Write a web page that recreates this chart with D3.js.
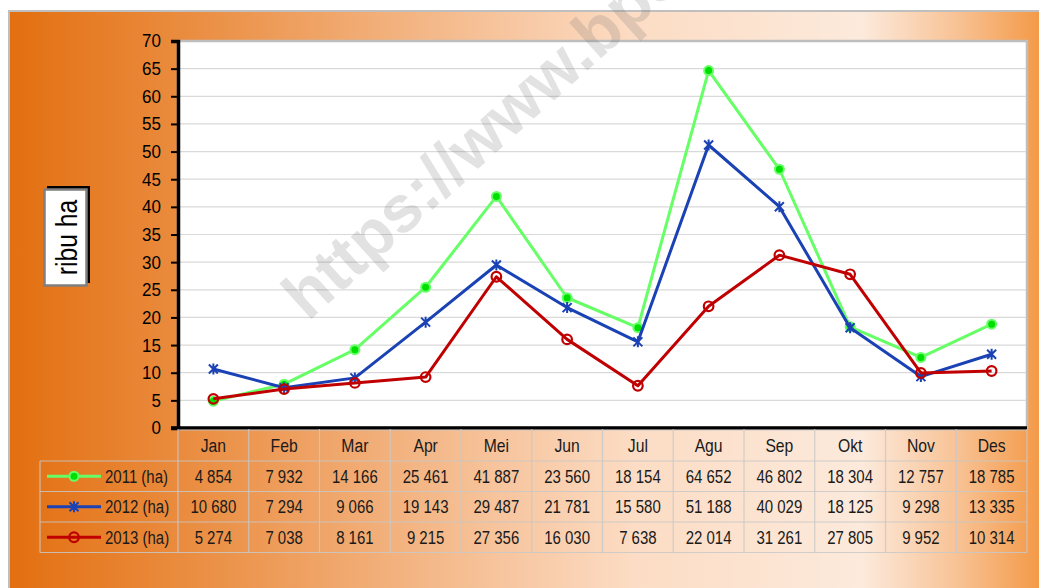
<!DOCTYPE html>
<html><head><meta charset="utf-8">
<script src="https://cdn.jsdelivr.net/npm/d3@7/dist/d3.min.js"></script>
<style>
html,body{margin:0;padding:0;background:#fff;}
svg{display:block;}
.nar{font-family:"Liberation Sans",Arial,sans-serif;}
</style></head>
<body>
<svg id="chart" width="1039" height="588"></svg>
<script>
const months = ["Jan","Feb","Mar","Apr","Mei","Jun","Jul","Agu","Sep","Okt","Nov","Des"];
const seriesNames = ["2011 (ha)","2012 (ha)","2013 (ha)"];
const values2011 = [4854,7932,14166,25461,41887,23560,18154,64652,46802,18304,12757,18785];
const values2012 = [10680,7294,9066,19143,29487,21781,15580,51188,40029,18125,9298,13335];
const values2013 = [5274,7038,8161,9215,27356,16030,7638,22014,31261,27805,9952,10314];
const yTicks = [0,5,10,15,20,25,30,35,40,45,50,55,60,65,70];
const yLabel = "ribu ha";
const watermark = "https://www.bps.go.id";

const series = [
  {name: seriesNames[0], values: values2011, color: "#66FF66", marker: "dot"},
  {name: seriesNames[1], values: values2012, color: "#1A42B4", marker: "star"},
  {name: seriesNames[2], values: values2013, color: "#C00000", marker: "ring"}
];

const NARROW = 0.81;
const svg = d3.select("#chart");
const defs = svg.append("defs");
const grad = defs.append("linearGradient").attr("id","bg").attr("x1","0").attr("x2","1").attr("y1","0").attr("y2","0");
[["0%","#E36F10"],["22%","#EC954E"],["48%","#F7C6A0"],["60%","#FCDCC4"],["82%","#FCEADC"],["91%","#F8C396"],["100%","#F3953F"]]
  .forEach(s=>grad.append("stop").attr("offset",s[0]).attr("stop-color",s[1]));

// outer frame
svg.append("rect").attr("x",9).attr("y",11).attr("width",1040).attr("height",590)
  .attr("fill","url(#bg)").attr("stroke","#BFBFBF").attr("stroke-width",2);

const L = 178, R = 1027, T = 41, B = 428;
const x = d3.scaleBand().domain(months).range([L,R]).padding(0);
const y = d3.scaleLinear().domain([0,70]).range([B,T]);
const cx = m => x(m) + x.bandwidth()/2;

// plot area
svg.append("rect").attr("x",L).attr("y",T).attr("width",R-L).attr("height",B-T)
  .attr("fill","#fff").attr("stroke","#BEBEBE").attr("stroke-width",2.5);

// gridlines
svg.append("g").selectAll("line").data(yTicks.filter(t=>t>0 && t<70)).join("line")
  .attr("x1",L).attr("x2",R-1).attr("y1",d=>y(d)).attr("y2",d=>y(d))
  .attr("stroke","#D9D9D9").attr("stroke-width",1.2);

// y axis
const yAxis = d3.axisLeft(y).tickValues(yTicks).tickSize(7).tickPadding(10);
const ya = svg.append("g").attr("transform",`translate(${L},0)`).call(yAxis);
ya.attr("font-family",null).attr("font-size",null);
ya.select(".domain").attr("stroke","#000").attr("stroke-width",3.5);
ya.selectAll(".tick line").attr("stroke","#000").attr("stroke-width",2);
ya.selectAll("text").attr("class","nar").attr("font-size",18.5).attr("fill","#000")
  .attr("transform",`scale(0.92,1)`).attr("x",-17/0.92);
// bottom axis line
svg.append("line").attr("x1",L-7).attr("x2",R).attr("y1",B).attr("y2",B)
  .attr("stroke","#000").attr("stroke-width",3.5);

// lines
const line = d3.line().x((d,i)=>cx(months[i])).y(d=>y(d/1000));
function drawMarker(g, type, color){
  if(type==="dot"){
    g.append("circle").attr("r",4.5).attr("fill","#00E000").attr("stroke",color).attr("stroke-width",2);
  } else if(type==="star"){
    const s=4.5;
    g.append("path").attr("d",`M${-s},${-s}L${s},${s}M${-s},${s}L${s},${-s}M0,${-s-1}L0,${s+1}`)
      .attr("stroke",color).attr("stroke-width",2).attr("fill","none");
  } else {
    g.append("circle").attr("r",4.8).attr("fill","none").attr("stroke",color).attr("stroke-width",2.2);
  }
}
series.forEach(s=>{
  svg.append("path").datum(s.values).attr("d",line).attr("fill","none")
    .attr("stroke",s.color).attr("stroke-width",3).attr("stroke-linejoin","round");
  s.values.forEach((v,i)=>{
    const g = svg.append("g").attr("transform",`translate(${cx(months[i])},${y(v/1000)})`);
    drawMarker(g,s.marker,s.color);
  });
});

// narrow text helper
function ntext(parent, tx, ty, str, size, anchor, sx){
  return parent.append("text").attr("class","nar")
    .attr("transform",`translate(${tx},${ty}) scale(${sx||NARROW},1)`)
    .attr("text-anchor",anchor||"middle").attr("font-size",size).attr("fill","#1a1a1a").text(str);
}

// data table
const rowTop = 429, hdrH = 32, rowH = 30.5, legL = 40;
const tb = svg.append("g");
const gridCol = "rgba(200,200,200,0.85)";
tb.append("line").attr("x1",L).attr("x2",R).attr("y1",rowTop+1).attr("y2",rowTop+1).attr("stroke",gridCol);
for(let r=0;r<=series.length;r++){
  const yy = rowTop+hdrH+r*rowH;
  tb.append("line").attr("x1",legL).attr("x2",R).attr("y1",yy).attr("y2",yy).attr("stroke",gridCol).attr("stroke-width",1.2);
}
const bottomY = rowTop+hdrH+series.length*rowH;
months.forEach((m,i)=>{
  tb.append("line").attr("x1",x(m)).attr("x2",x(m)).attr("y1",rowTop).attr("y2",bottomY).attr("stroke",gridCol).attr("stroke-width",1.2);
});
tb.append("line").attr("x1",R).attr("x2",R).attr("y1",rowTop).attr("y2",bottomY).attr("stroke",gridCol).attr("stroke-width",1.2);
tb.append("line").attr("x1",legL).attr("x2",legL).attr("y1",rowTop+hdrH).attr("y2",bottomY).attr("stroke",gridCol).attr("stroke-width",1.2);
months.forEach(m=>ntext(tb, cx(m), rowTop+hdrH/2+6.5, m, 18.5, "middle", 0.85));
const fmt = v => d3.format(",")(v).replace(/,/g," ");
series.forEach((s,r)=>{
  const cy = rowTop+hdrH+r*rowH+rowH/2;
  tb.append("line").attr("x1",47).attr("x2",101).attr("y1",cy).attr("y2",cy)
    .attr("stroke",s.color).attr("stroke-width",3);
  const g = tb.append("g").attr("transform",`translate(74,${cy})`);
  drawMarker(g,s.marker,s.color);
  ntext(tb, 105, cy+6.5, s.name, 18.5, "start");
  s.values.forEach((v,i)=>ntext(tb, cx(months[i]), cy+6.5, fmt(v), 18.5, "middle"));
});

// y label box
svg.append("rect").attr("x",47).attr("y",186).attr("width",43).attr("height",97).attr("fill","#000");
svg.append("rect").attr("x",44.5).attr("y",189.5).attr("width",42).attr("height",96)
  .attr("fill","#fff").attr("stroke","#7F7F7F").attr("stroke-width",2.5);
svg.append("text").attr("class","nar").attr("transform","translate(77,237.5) rotate(-90) scale(0.85,1)")
  .attr("text-anchor","middle").attr("font-size",29).attr("fill","#000").text(yLabel);

// watermark
svg.append("text").attr("transform","translate(308,322) rotate(-42)")
  .attr("font-family","'Liberation Sans',Arial,sans-serif").attr("font-weight","bold")
  .attr("font-size",66).attr("fill","rgba(110,110,110,0.2)").text(watermark);
</script>
</body></html>
